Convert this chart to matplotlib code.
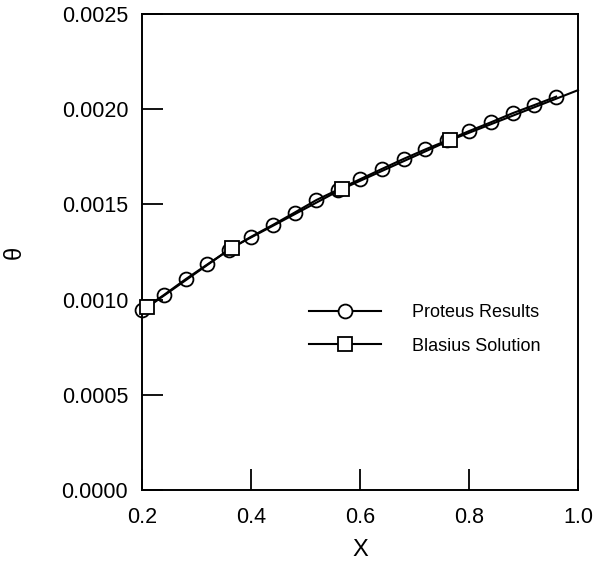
import numpy as np
import matplotlib.pyplot as plt

plt.rcParams['font.family'] = ['Liberation Sans', 'DejaVu Sans']

# Proteus results (circles)
proteus_x = [0.20, 0.24, 0.28, 0.32, 0.36, 0.40, 0.44, 0.48, 0.52, 0.56,
             0.60, 0.64, 0.68, 0.72, 0.76, 0.80, 0.84, 0.88, 0.92, 0.96]
proteus_theta = [0.000945, 0.001024, 0.001107, 0.001185, 0.001262, 0.001330,
                 0.001392, 0.001457, 0.001523, 0.001578, 0.001632, 0.001686,
                 0.001739, 0.001789, 0.001836, 0.001885, 0.001931, 0.001979,
                 0.002022, 0.002066]

# Blasius solution (squares), line runs on to x = 1.0
blasius_x = [0.21, 0.365, 0.567, 0.766, 1.0]
blasius_theta = [0.000960, 0.001273, 0.001581, 0.001838, 0.002100]

fig = plt.figure(figsize=(6.01, 5.61), dpi=100)
ax = fig.add_axes([0.2363, 0.1266, 0.7254, 0.8484])

ax.plot(proteus_x, proteus_theta, '-', color='black', lw=1.5,
        marker='o', ms=10, mfc='none', mec='black', mew=1.3, clip_on=False, zorder=3)
ax.plot(blasius_x, blasius_theta, '-', color='black', lw=1.5,
        marker='s', ms=10, mfc='white', mec='black', mew=1.3,
        markevery=[0, 1, 2, 3], clip_on=False, zorder=4)

# legend proxies
leg_h1, = ax.plot([], [], '-', color='black', lw=1.5, marker='o', ms=10,
                  mfc='white', mec='black', mew=1.3)
leg_h2, = ax.plot([], [], '-', color='black', lw=1.5, marker='s', ms=10,
                  mfc='white', mec='black', mew=1.3)
ax.legend([leg_h1, leg_h2], ['Proteus Results', 'Blasius Solution'],
          loc='upper left', bbox_to_anchor=(0.345, 0.424), frameon=False,
          fontsize=13, handlelength=4.0, handletextpad=1.7, labelspacing=0.9,
          numpoints=1)

ax.set_xlim(0.2, 1.0)
ax.set_ylim(0.0, 0.0025)
ax.set_xticks([0.2, 0.4, 0.6, 0.8, 1.0])
ax.set_yticks([0.0, 0.0005, 0.0010, 0.0015, 0.0020, 0.0025])
ax.set_xticklabels(['0.2', '0.4', '0.6', '0.8', '1.0'])
ax.set_yticklabels(['0.0000', '0.0005', '0.0010', '0.0015', '0.0020', '0.0025'])
ax.tick_params(direction='in', length=15, width=1.3, labelsize=15.5)
ax.tick_params(axis='x', pad=12)
ax.tick_params(axis='y', pad=10)
for s in ax.spines.values():
    s.set_linewidth(1.4)

ax.set_xlabel('X', fontsize=17, labelpad=8)
ax.set_ylabel('θ', fontsize=17, labelpad=26)

fig.savefig('out.png', dpi=100)
